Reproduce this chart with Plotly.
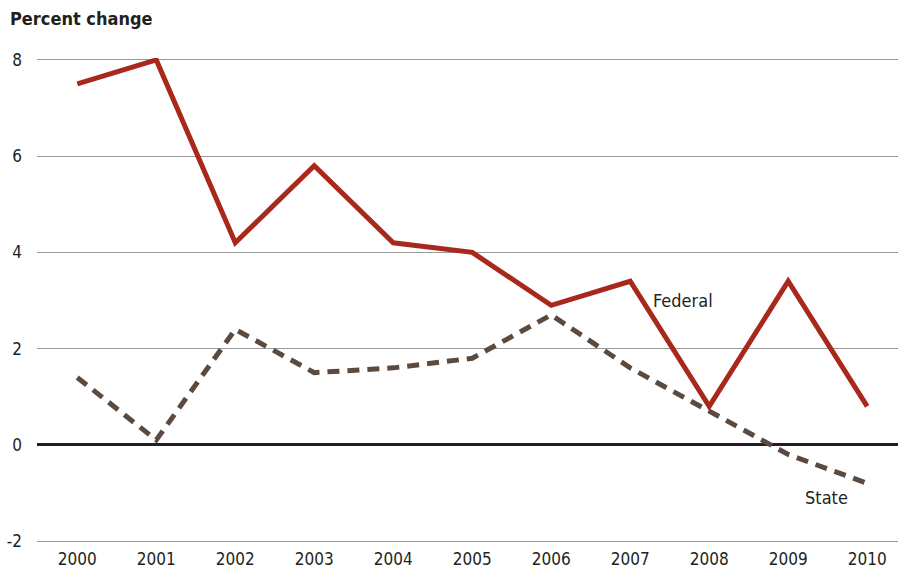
import plotly.graph_objects as go

years = [2000, 2001, 2002, 2003, 2004, 2005, 2006, 2007, 2008, 2009, 2010]
federal = [7.5, 8.0, 4.2, 5.8, 4.2, 4.0, 2.9, 3.4, 0.8, 3.4, 0.8]
state = [1.4, 0.1, 2.4, 1.5, 1.6, 1.8, 2.7, 1.6, 0.7, -0.2, -0.8]
y_ticks = [-2, 0, 2, 4, 6, 8]
y_labels = ["-2", "0", "2", "4", "6", "8"]

FONT = "DejaVu Sans Condensed, Liberation Sans Narrow, sans-serif"

fig = go.Figure()
fig.add_trace(go.Scatter(x=years, y=federal, mode="lines", name="Federal",
                         line=dict(color="#a8281c", width=5), showlegend=False))
fig.add_trace(go.Scatter(x=years, y=state, mode="lines", name="State",
                         line=dict(color="#5b4a40", width=5, dash="12px,8px"), showlegend=False))

fig.add_annotation(x=2007.67, y=3.0, text="Federal", showarrow=False,
                   font=dict(family=FONT, size=18, color="#231f20"), xanchor="center")
fig.add_annotation(x=2009.48, y=-1.1, text="State", showarrow=False,
                   font=dict(family=FONT, size=18, color="#231f20"), xanchor="center")
fig.add_annotation(x=0, y=1, xref="paper", yref="paper", xshift=-29, yshift=52,
                   text="<b>Percent change</b>", showarrow=False, xanchor="left", yanchor="top",
                   font=dict(family=FONT, size=18, color="#231f20"))

fig.update_layout(
    width=898, height=571,
    margin=dict(l=37, r=0, t=58, b=28),
    plot_bgcolor="white", paper_bgcolor="white",
    font=dict(family=FONT, size=17, color="#231f20"),
    xaxis=dict(range=[1999.49, 2010.39], tickvals=years, ticktext=[str(y) for y in years],
               showgrid=False, zeroline=False, showline=False, ticks="", ticklabelstandoff=4),
    yaxis=dict(range=[-2.04, 8.04], tickvals=y_ticks, ticktext=y_labels,
               showgrid=True, gridcolor="#999999", gridwidth=1,
               zeroline=True, zerolinecolor="#231f20", zerolinewidth=2.5,
               showline=False, ticks="", ticklabelstandoff=14),
)

fig.write_html("out.html", config={"displayModeBar": False},
               post_script="document.body.style.margin='0';document.body.style.padding='0';")
